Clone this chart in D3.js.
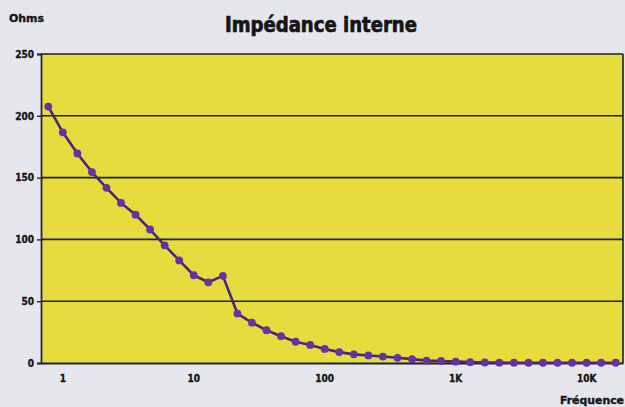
<!DOCTYPE html>
<html>
<head>
<meta charset="utf-8">
<script src="https://cdn.jsdelivr.net/npm/d3@7"></script>
<style>
  html, body { margin: 0; padding: 0; background: #e5e7ec; }
  svg { display: block; }
  text { font-family: "Liberation Sans Narrow", "DejaVu Sans Condensed", "Liberation Sans", Arial, sans-serif; font-weight: bold; fill: #151515; }
  .heavy { stroke: #151515; stroke-width: 0.7px; paint-order: stroke; }
  .semi { stroke: #151515; stroke-width: 0.35px; }
</style>
</head>
<body>
<svg id="chart" width="625" height="407"></svg>
<script>
// Frequencies (Hz), one category per measurement point
const frequencies = [0.5, 1, 2, 3, 4, 5, 6, 7, 8, 9, 10,
  20, 30, 40, 50, 60, 70, 80, 90, 100,
  200, 300, 400, 500, 600, 700, 800, 900, 1000,
  2000, 3000, 4000, 5000, 6000, 7000, 8000, 9000, 10000,
  15000, 20000];

// Internal impedance (ohms)
const impedance = [207.5, 186.6, 169.5, 154.5, 141.7, 129.5, 120, 108, 95.2, 83, 71,
  65.3, 70.5, 40, 32.6, 26.5, 21.7, 17.2, 14.6, 11.4,
  8.8, 7, 6.1, 5.2, 4.2, 3.1, 1.9, 1.6, 1.1,
  0.7, 0.4, 0.3, 0.2, 0.2, 0.2, 0.2, 0.2, 0.2,
  0.2, 0.2];

// Labelled frequencies on the horizontal axis
const xTickValues = [1, 10, 100, 1000, 10000];
const xTickLabels = ["1", "10", "100", "1K", "10K"];
const yTickValues = [0, 50, 100, 150, 200, 250];

const plot = { left: 41, right: 623, top: 54, bottom: 363 };

const svg = d3.select("#chart");

const x = d3.scaleBand()
  .domain(frequencies)
  .range([plot.left, plot.right])
  .padding(0);
const cx = f => x(f) + x.bandwidth() / 2;

const y = d3.scaleLinear()
  .domain([0, 250])
  .range([plot.bottom, plot.top]);

// Plot background
svg.append("rect")
  .attr("x", plot.left).attr("y", plot.top)
  .attr("width", plot.right - plot.left).attr("height", plot.bottom - plot.top)
  .attr("fill", "#e6dc3e");

// Horizontal grid lines
svg.append("g")
  .selectAll("line")
  .data(yTickValues.filter(v => v > 0))
  .join("line")
  .attr("x1", plot.left).attr("x2", plot.right)
  .attr("y1", d => y(d)).attr("y2", d => y(d))
  .attr("stroke", "#1e1e1e").attr("stroke-width", 1.6);

// Right border
svg.append("line")
  .attr("x1", plot.right).attr("x2", plot.right)
  .attr("y1", plot.top).attr("y2", plot.bottom)
  .attr("stroke", "#1e1e2a").attr("stroke-width", 1.6);

// Y axis
const yAxis = svg.append("g")
  .attr("transform", `translate(${plot.left},0)`)
  .call(d3.axisLeft(y).tickValues(yTickValues).tickSize(4).tickPadding(3).tickFormat(d3.format("d")));
yAxis.select(".domain").attr("stroke", "#23234a").attr("stroke-width", 1.8);
yAxis.selectAll(".tick line").attr("stroke", "#23234a").attr("stroke-width", 1.4);
yAxis.selectAll(".tick text").attr("class", "semi").style("font-size", "10px").attr("fill", "#151515");

// X axis
const xAxis = svg.append("g")
  .attr("transform", `translate(0,${plot.bottom})`)
  .call(d3.axisBottom(x)
    .tickValues(xTickValues)
    .tickSize(0)
    .tickPadding(12)
    .tickFormat(d => xTickLabels[xTickValues.indexOf(d)]));
xAxis.select(".domain").attr("stroke", "#1e1e2a").attr("stroke-width", 1.8);
xAxis.selectAll(".tick text").attr("class", "semi").style("font-size", "10px").attr("fill", "#151515");

// Impedance curve
const points = frequencies.map((f, i) => [f, impedance[i]]);

svg.append("path")
  .datum(points)
  .attr("fill", "none")
  .attr("stroke", "#47277a")
  .attr("stroke-width", 2.6)
  .attr("stroke-linejoin", "round")
  .attr("d", d3.line().x(d => cx(d[0])).y(d => y(d[1])));

svg.append("g")
  .selectAll("circle")
  .data(points)
  .join("circle")
  .attr("cx", d => cx(d[0]))
  .attr("cy", d => y(d[1]))
  .attr("r", 3.9)
  .attr("fill", "#6532a6");

// Title and axis names
svg.append("text")
  .attr("class", "heavy")
  .attr("x", 321).attr("y", 31.5)
  .attr("text-anchor", "middle")
  .attr("textLength", 192).attr("lengthAdjust", "spacingAndGlyphs")
  .style("font-size", "22px")
  .text("Impédance interne");

svg.append("text")
  .attr("class", "semi")
  .attr("x", 9).attr("y", 22)
  .attr("textLength", 35).attr("lengthAdjust", "spacingAndGlyphs")
  .style("font-size", "11px")
  .text("Ohms");

svg.append("text")
  .attr("class", "semi")
  .attr("x", 624).attr("y", 404)
  .attr("text-anchor", "end")
  .attr("textLength", 64).attr("lengthAdjust", "spacingAndGlyphs")
  .style("font-size", "11px")
  .text("Fréquence");
</script>
</body>
</html>
